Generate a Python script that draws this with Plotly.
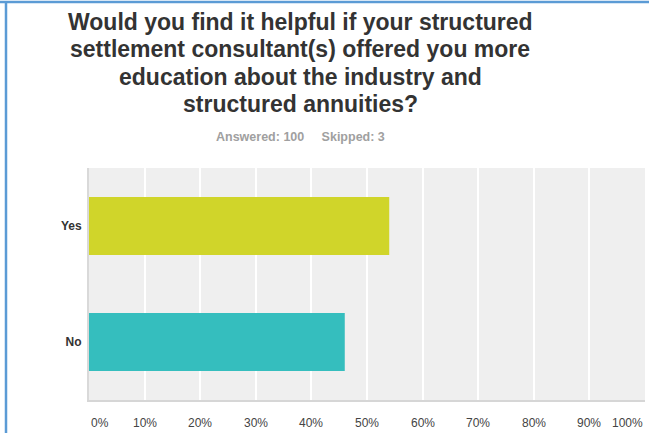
import plotly.graph_objects as go

# Survey question and response summary
question_lines = [
    "Would you find it helpful if your structured",
    "settlement consultant(s) offered you more",
    "education about the industry and",
    "structured annuities?",
]
answered = 100
skipped = 3

# Response shares (percent of respondents)
categories = ["Yes", "No"]
percent = [54, 46]
bar_colors = ["#D0D52A", "#35BEBE"]

# Horizontal axis ticks
x_ticks = [0, 10, 20, 30, 40, 50, 60, 70, 80, 90, 100]
x_tick_labels = ["0%", "10%", "20%", "30%", "40%", "50%", "60%", "70%", "80%", "90%", "100%"]

FONT = "Arial, 'Liberation Sans', sans-serif"
W, H = 649, 433
ML, MR, MT, MB = 89, 4, 168, 33
PW, PH = W - ML - MR, H - MT - MB


def paper_x(px):
    return (px - ML) / PW


def paper_y(py):
    return (H - MB - py) / PH


fig = go.Figure(
    go.Bar(
        x=percent,
        y=categories,
        orientation="h",
        marker=dict(color=bar_colors, line=dict(width=0)),
        width=0.5,
        hoverinfo="x+y",
    )
)

annotations = []

# Question title, one line per annotation
title_centers = [21.5, 49.0, 76.5, 104.0]
for line, cy in zip(question_lines, title_centers):
    annotations.append(dict(
        text=f"<b>{line}</b>", xref="paper", yref="paper",
        x=paper_x(300), y=paper_y(cy), xanchor="center", yanchor="middle",
        showarrow=False, font=dict(family=FONT, size=23, color="#333333"),
    ))

# Answered / skipped summary
annotations.append(dict(
    text=f"<b>Answered: {answered}&nbsp;&nbsp;&nbsp;&nbsp;&nbsp;Skipped: {skipped}</b>",
    xref="paper", yref="paper", x=paper_x(300), y=paper_y(136.5),
    xanchor="center", yanchor="middle", showarrow=False,
    font=dict(family=FONT, size=12.5, color="#A0A0A0"),
))

# Percent tick labels, end labels kept inside the plot width
for i, (t, lab) in enumerate(zip(x_ticks, x_tick_labels)):
    if i == 0:
        anchor = "left"
    elif i == len(x_ticks) - 1:
        anchor = "right"
    else:
        anchor = "center"
    annotations.append(dict(
        text=lab, xref="x", yref="paper", x=t, y=paper_y(422.5),
        xanchor=anchor, yanchor="middle", showarrow=False,
        font=dict(family=FONT, size=12, color="#444444"),
    ))

# Blue frame along the top and left edges
frame_color = "#5B9BD5"
shapes = [
    dict(type="line", xref="paper", yref="paper",
         x0=paper_x(0), x1=paper_x(W + 5), y0=paper_y(2), y1=paper_y(2),
         line=dict(color=frame_color, width=2.5)),
    dict(type="line", xref="paper", yref="paper",
         x0=paper_x(6), x1=paper_x(6), y0=paper_y(1), y1=paper_y(H + 5),
         line=dict(color=frame_color, width=2.5)),
]

fig.update_layout(
    width=W, height=H,
    margin=dict(l=ML, r=MR, t=MT, b=MB, pad=0),
    paper_bgcolor="#FFFFFF",
    plot_bgcolor="#EFEFEF",
    showlegend=False,
    font=dict(family=FONT),
    annotations=annotations,
    shapes=shapes,
    xaxis=dict(
        range=[0, 100], tickvals=x_ticks, showticklabels=False,
        showgrid=True, gridcolor="#FFFFFF", gridwidth=1.5,
        zeroline=False, showline=True, linecolor="#D6D6D6", linewidth=2,
        fixedrange=True,
    ),
    yaxis=dict(
        categoryorder="array", categoryarray=categories, autorange="reversed",
        showgrid=False, zeroline=False,
        showline=True, linecolor="#D9D9D9", linewidth=2,
        ticks="outside", ticklen=3, tickcolor="rgba(0,0,0,0)",
        tickfont=dict(family=FONT, size=12, color="#333333", weight="bold"),
        fixedrange=True,
    ),
    bargap=0.5,
)

fig.write_html("out.html", config={"displayModeBar": False})
